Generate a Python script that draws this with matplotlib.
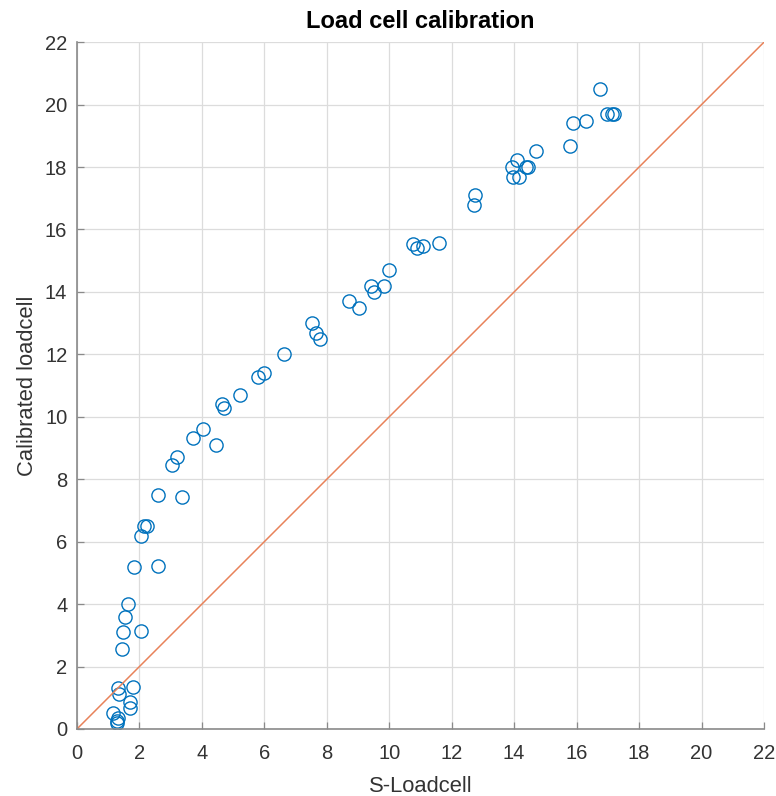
import matplotlib
matplotlib.use("Agg")
import matplotlib.pyplot as plt
import numpy as np

plt.rcParams['font.family'] = ['Liberation Sans', 'DejaVu Sans']

# Measurements: S-Loadcell reading vs calibrated load cell
s_loadcell = [1.16, 1.30, 1.27, 1.29, 1.33, 1.30, 1.78, 1.71, 1.71,
              1.44, 1.46, 2.06, 1.54, 1.62, 1.84, 2.58, 2.05, 2.16, 2.24,
              2.58, 3.36, 3.03, 3.19, 3.70, 4.02, 4.45, 4.63, 4.71, 5.22,
              5.81, 6.00, 6.64, 7.53, 7.64, 7.78, 8.71, 9.03, 9.40, 9.51,
              9.83, 9.99, 10.77, 10.88, 11.09, 11.59, 12.74, 12.72, 13.92,
              14.10, 13.97, 14.15, 14.38, 14.45, 14.70, 15.79, 15.89, 16.30,
              16.75, 16.96, 17.12, 17.20]
calibrated = [0.52, 0.34, 0.20, 0.27, 1.12, 1.30, 1.35, 0.87, 0.68,
              2.55, 3.10, 3.14, 3.60, 3.99, 5.20, 5.22, 6.18, 6.51, 6.51,
              7.49, 7.44, 8.45, 8.72, 9.31, 9.61, 9.09, 10.41, 10.27, 10.69,
              11.28, 11.41, 12.00, 13.00, 12.70, 12.49, 13.70, 13.49, 14.19, 14.00,
              14.19, 14.70, 15.52, 15.41, 15.47, 15.58, 17.12, 16.78, 18.00,
              18.22, 17.68, 17.68, 18.00, 18.00, 18.51, 18.68, 19.42, 19.48,
              20.49, 19.71, 19.71, 19.71]
ref_line = [0, 22]
ticks = list(range(0, 23, 2))

fig = plt.figure(figsize=(7.76, 7.96), dpi=100)
ax = fig.add_axes([0.0992, 0.0842, 0.8853, 0.8628])

ax.plot(s_loadcell, calibrated, linestyle='none', marker='o', markersize=9.5,
        markerfacecolor='none', markeredgecolor='#0072BD', markeredgewidth=1.0)
ax.plot(ref_line, ref_line, color='#E8825A', linewidth=1.1)

ax.set_xlim(0, 22)
ax.set_ylim(0, 22)
ax.set_xticks(ticks)
ax.set_yticks(ticks)
ax.grid(True, color='#dcdcdc', linewidth=0.9)
ax.set_axisbelow(True)

for side in ('top', 'right'):
    ax.spines[side].set_visible(False)
for side in ('left', 'bottom'):
    ax.spines[side].set_color('#8a8a8a')
    ax.spines[side].set_linewidth(1.2)

ax.tick_params(direction='in', length=5, width=0.9, color='#8a8a8a',
               labelsize=14.5, labelcolor='#333333')
ax.tick_params(axis='x', pad=11)
ax.tick_params(axis='y', pad=7)

ax.set_xlabel('S-Loadcell', fontsize=15.8, color='#333333', labelpad=9)
ax.set_ylabel('Calibrated loadcell', fontsize=15.8, color='#333333', labelpad=5)
ax.set_title('Load cell calibration', fontsize=17, fontweight='bold',
             color='#000000', pad=10)

fig.savefig('out.png', dpi=100)
